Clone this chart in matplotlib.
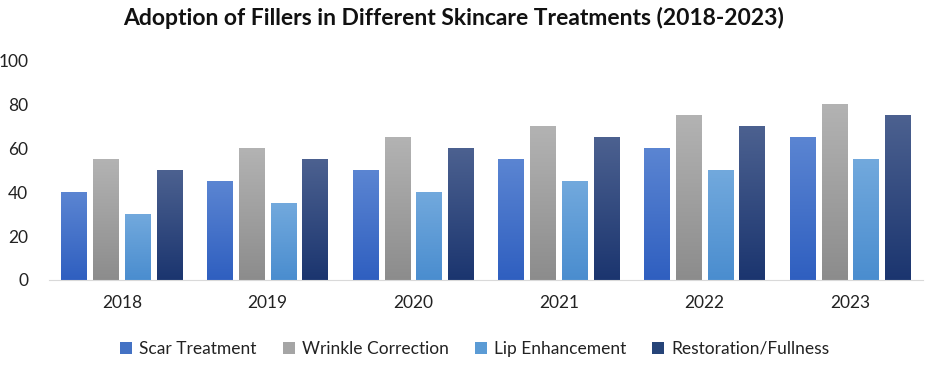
import matplotlib.pyplot as plt
import numpy as np
from matplotlib.colors import LinearSegmentedColormap

years = ["2018", "2019", "2020", "2021", "2022", "2023"]
scar = [40, 45, 50, 55, 60, 65]
wrinkle = [55, 60, 65, 70, 75, 80]
lip = [30, 35, 40, 45, 50, 55]
restoration = [50, 55, 60, 65, 70, 75]

series = [
    ("Scar Treatment", scar, "#5B85D2", "#2F5FC0", "#4472C4"),
    ("Wrinkle Correction", wrinkle, "#B3B3B3", "#8C8C8C", "#A5A5A5"),
    ("Lip Enhancement", lip, "#72A9DD", "#4A8DCF", "#5B9BD5"),
    ("Restoration/Fullness", restoration, "#4C6190", "#1B356F", "#264478"),
]

plt.rcParams['font.family'] = ['Lato', 'DejaVu Sans']

fig = plt.figure(figsize=(9.4, 3.67), dpi=100)
ax = fig.add_axes([49 / 940, 1 - 280 / 367, (923 - 49) / 940, 220 / 367])

x = np.arange(len(years))
width = 0.175
step = 0.218
offsets = (np.arange(4) - 1.5) * step

grad = np.linspace(0, 1, 256).reshape(-1, 1)
for i, (name, vals, top, bottom, legend_c) in enumerate(series):
    cmap = LinearSegmentedColormap.from_list(name, [bottom, top])
    bars = ax.bar(x + offsets[i], vals, width, color=legend_c, label=name,
                  linewidth=0, zorder=1)
    for b in bars:
        x0, y0 = b.get_x(), b.get_y()
        ax.imshow(grad, cmap=cmap, origin="lower", aspect="auto",
                  extent=[x0, x0 + b.get_width(), y0, y0 + b.get_height()], zorder=2)

ax.set_xlim(-0.5, len(years) - 0.5)
ax.set_ylim(0, 100)
ax.set_xticks(x)
ax.set_xticklabels(years)
ax.set_yticks(range(0, 101, 20))
for s in ["top", "right", "left"]:
    ax.spines[s].set_visible(False)
ax.spines["bottom"].set_color("#D9D9D9")
ax.tick_params(axis="both", length=0, labelsize=12.5, colors="#222222")
ax.tick_params(axis="x", pad=11)
ax.tick_params(axis="y", pad=15)

fig.suptitle("Adoption of Fillers in Different Skincare Treatments (2018-2023)",
             x=0.482, y=0.98, fontsize=16.5, fontweight="bold", color="#111111")

fig.legend(loc="center", bbox_to_anchor=(0.505, 1 - 349 / 367), ncol=4, frameon=False,
           fontsize=12.5, handlelength=0.7, handleheight=0.7, columnspacing=1.5,
           handletextpad=0.4, labelcolor="#222222")

fig.savefig("out.png", dpi=100)
